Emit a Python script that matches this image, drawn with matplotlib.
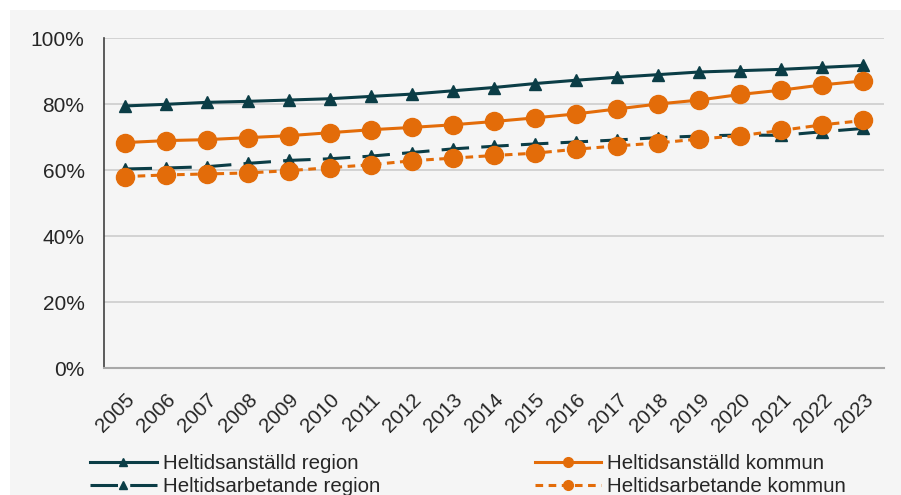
import matplotlib
matplotlib.use("Agg")
import matplotlib.pyplot as plt
from matplotlib.patches import Rectangle
from matplotlib.lines import Line2D
from matplotlib.ticker import FuncFormatter
from matplotlib.transforms import ScaledTranslation

years = [str(y) for y in range(2005, 2024)]
anstalld_region = [79.4, 79.9, 80.5, 80.8, 81.2, 81.6, 82.3, 83.0, 84.0, 85.0, 86.2, 87.2, 88.1, 88.9, 89.7, 90.1, 90.5, 91.1, 91.7]
anstalld_kommun = [68.3, 68.9, 69.2, 69.8, 70.4, 71.3, 72.2, 72.9, 73.7, 74.7, 75.8, 77.0, 78.5, 80.0, 81.2, 82.9, 84.2, 85.8, 87.0]
arbetande_region = [60.3, 60.6, 61.0, 62.0, 62.9, 63.4, 64.2, 65.3, 66.4, 67.2, 67.9, 68.5, 69.1, 69.8, 70.3, 70.6, 70.5, 71.6, 72.6]
arbetande_kommun = [58.0, 58.5, 58.8, 59.1, 59.8, 60.7, 61.6, 62.8, 63.6, 64.4, 65.1, 66.3, 67.3, 68.2, 69.4, 70.4, 72.0, 73.7, 75.0]

teal = "#0b3d46"
orange = "#e36c09"
textc = "#262626"

plt.rcParams['font.family'] = ['Liberation Sans', 'DejaVu Sans']

fig = plt.figure(figsize=(9.01, 4.95), dpi=100, facecolor="white")
fig.patches.append(Rectangle((10/901, 0), 1, 1 - 10/495, transform=fig.transFigure,
                             facecolor="#f5f5f5", edgecolor="none", zorder=-10))
ax = fig.add_axes([104/901, 1 - 368/495, 780/901, 330/495])
ax.set_facecolor("none")

x = list(range(len(years)))
lw = 2.2
ax.plot(x, anstalld_region, color=teal, lw=lw, marker="^", ms=9, zorder=5)
ax.plot(x, arbetande_region, color=teal, lw=lw, marker="^", ms=9, dashes=(9, 4), zorder=4)
ax.plot(x, anstalld_kommun, color=orange, lw=lw, marker="o", ms=13, zorder=5)
ax.plot(x, arbetande_kommun, color=orange, lw=lw, marker="o", ms=13, dashes=(2.5, 1.8), zorder=4)

ax.set_xlim(-0.5, len(years) - 0.5)
ax.set_ylim(0, 100)
ax.set_yticks(range(0, 101, 20))
ax.yaxis.set_major_formatter(FuncFormatter(lambda v, p: f"{int(v)}%"))
ax.set_xticks(x)
ax.set_xticklabels(years, rotation=45, ha="right", va="top", rotation_mode="anchor",
                   fontsize=14.8, color=textc)
shift = ScaledTranslation(-5/100, 0, fig.dpi_scale_trans)
for lab in ax.get_xticklabels():
    lab.set_transform(lab.get_transform() + shift)
ax.tick_params(axis="y", labelsize=15, length=0, pad=14, labelcolor=textc)
ax.tick_params(axis="x", length=0, pad=16)
ax.grid(axis="y", color="#d0d0d0", lw=1.3)
ax.set_axisbelow(True)
for s in ["top", "right"]:
    ax.spines[s].set_visible(False)
ax.spines["left"].set_color("#404040")
ax.spines["left"].set_linewidth(1.2)
ax.spines["bottom"].set_color("#a8a8a8")
ax.spines["bottom"].set_linewidth(1.5)

handles = [
    Line2D([], [], color=teal, lw=lw, marker="^", ms=6),
    Line2D([], [], color=teal, lw=lw, marker="^", ms=6, dashes=(9, 4)),
    Line2D([], [], color=orange, lw=lw, marker="o", ms=7),
    Line2D([], [], color=orange, lw=lw, marker="o", ms=7, dashes=(2.5, 1.8)),
]
labels = ["Heltidsanställd region", "Heltidsarbetande region",
          "Heltidsanställd kommun", "Heltidsarbetande kommun"]
leg = fig.legend(handles, labels, ncol=2, loc="upper left",
                 bbox_to_anchor=(90/901, 1 - 454/495),
                 frameon=False, fontsize=14.8, handlelength=3.25, columnspacing=7.5,
                 labelspacing=0.2, handletextpad=0.3, borderpad=0, borderaxespad=0)
for t in leg.get_texts():
    t.set_color(textc)

fig.savefig("out.png", dpi=100, facecolor=fig.get_facecolor())
